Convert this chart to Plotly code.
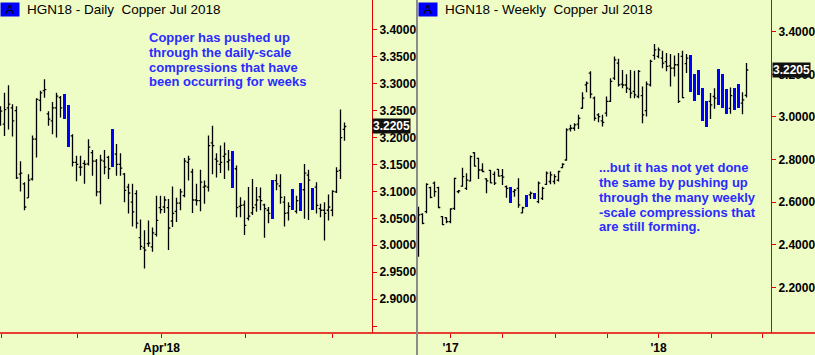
import plotly.graph_objects as go

# ---------------- DATA ----------------
daily_open = [3.231,3.225,3.255,3.255,3.250,3.132,3.114,3.088,3.123,3.197,
              3.269,3.287,3.244,3.231,3.255,3.274,3.275,3.250,3.203,3.154,
              3.145,3.152,3.151,3.172,3.156,3.099,3.156,3.163,3.150,3.169,
              3.150,3.132,3.108,3.080,3.096,3.014,2.995,3.003,2.997,3.020,
              3.070,3.071,3.070,3.045,3.063,3.078,3.092,3.154,3.136,3.084,
              3.083,3.108,3.108,3.190,3.160,3.150,3.165,3.155,3.165,3.142,
              3.072,3.075,3.050,3.060,3.075,3.090,3.075,3.065,3.055,3.120,
              3.110,3.080,3.060,3.070,3.063,3.070,3.103,3.130,3.100,3.108,
              3.068,3.065,3.065,3.065,3.099,3.139,3.215]
daily_high = [3.258,3.283,3.297,3.262,3.258,3.156,3.117,3.132,3.204,3.273,
              3.287,3.308,3.249,3.266,3.283,3.277,3.280,3.260,3.206,3.166,
              3.166,3.158,3.197,3.177,3.160,3.168,3.177,3.166,3.215,3.188,
              3.171,3.134,3.114,3.114,3.102,3.048,3.028,3.046,3.033,3.092,
              3.092,3.091,3.086,3.109,3.088,3.105,3.162,3.166,3.142,3.114,
              3.140,3.120,3.204,3.222,3.171,3.185,3.191,3.177,3.175,3.148,
              3.089,3.083,3.108,3.123,3.108,3.107,3.077,3.071,3.121,3.132,
              3.132,3.091,3.080,3.105,3.092,3.116,3.151,3.140,3.107,3.117,
              3.077,3.080,3.094,3.102,3.145,3.252,3.228]
daily_low = [3.222,3.203,3.215,3.202,3.123,3.100,3.065,3.088,3.120,3.163,
             3.249,3.274,3.222,3.206,3.200,3.237,3.234,3.183,3.146,3.119,
             3.129,3.114,3.148,3.129,3.091,3.076,3.132,3.123,3.146,3.129,
             3.129,3.080,3.059,3.035,3.031,2.991,2.957,2.997,2.988,3.016,
             3.059,3.060,2.991,3.034,3.043,3.065,3.089,3.120,3.060,3.074,
             3.063,3.077,3.100,3.132,3.126,3.134,3.123,3.139,3.107,3.052,
             3.052,3.019,3.046,3.056,3.062,3.065,3.014,3.041,3.049,3.102,
             3.077,3.035,3.046,3.066,3.059,3.063,3.049,3.047,3.065,3.059,
             3.052,3.009,3.046,3.054,3.097,3.123,3.194]
daily_close = [3.249,3.252,3.262,3.231,3.125,3.134,3.071,3.121,3.197,3.271,
               3.283,3.289,3.234,3.255,3.277,3.255,3.240,3.190,3.154,3.150,
               3.145,3.150,3.182,3.156,3.099,3.158,3.145,3.142,3.210,3.150,
               3.143,3.102,3.097,3.062,3.041,2.998,2.991,3.004,3.023,3.046,
               3.066,3.084,3.032,3.059,3.078,3.099,3.156,3.160,3.084,3.083,
               3.117,3.110,3.185,3.185,3.156,3.154,3.169,3.158,3.112,3.070,
               3.074,3.037,3.054,3.070,3.084,3.083,3.068,3.059,3.115,3.114,
               3.089,3.059,3.072,3.100,3.083,3.110,3.134,3.121,3.070,3.074,
               3.065,3.059,3.071,3.100,3.137,3.200,3.2205]
daily_blue = [16, 17, 28, 58, 68, 73, 75, 78]
daily_tick_pos = [0.25, 19.25, 40.25, 61.25, 83]
daily_tick_text = ["", "", "Apr'18", "", ""]
daily_y_ticks = [2.85, 2.90, 2.95, 3.00, 3.05, 3.10, 3.15, 3.20, 3.25, 3.30, 3.35, 3.40]

weekly_open = [2.383,2.543,2.556,2.668,2.689,2.668,2.532,2.527,2.509,2.571,
               2.650,2.675,2.665,2.700,2.832,2.806,2.751,2.709,2.749,2.731,
               2.754,2.725,2.673,2.665,2.650,2.665,2.550,2.580,2.634,2.640,
               2.603,2.618,2.684,2.697,2.697,2.704,2.762,2.798,2.944,2.947,
               2.966,3.041,3.151,3.206,3.088,3.010,2.982,3.018,3.073,3.182,
               3.253,3.154,3.150,3.130,3.120,3.096,3.100,3.030,3.151,3.289,
               3.284,3.276,3.260,3.240,3.229,3.245,3.284,3.250,3.280,3.190,
               3.110,3.130,3.070,3.073,3.096,3.220,3.195,3.125,3.040,3.130,
               3.150,3.065,3.101]
weekly_high = [2.579,2.548,2.689,2.673,2.697,2.673,2.535,2.528,2.571,2.715,
               2.657,2.762,2.736,2.819,2.834,2.809,2.783,2.712,2.751,2.744,
               2.756,2.756,2.678,2.673,2.662,2.712,2.579,2.634,2.650,2.642,
               2.697,2.673,2.744,2.744,2.731,2.747,2.783,2.947,2.963,2.971,
               3.010,3.116,3.167,3.214,3.096,3.018,3.010,3.096,3.182,3.284,
               3.273,3.221,3.201,3.221,3.217,3.221,3.143,3.167,3.268,3.342,
               3.326,3.311,3.300,3.295,3.289,3.300,3.311,3.295,3.289,3.201,
               3.221,3.138,3.076,3.112,3.135,3.226,3.201,3.132,3.138,3.135,
               3.155,3.116,3.253]
weekly_low = [2.344,2.496,2.548,2.618,2.626,2.571,2.493,2.501,2.501,2.563,
              2.642,2.672,2.657,2.697,2.767,2.709,2.740,2.642,2.689,2.681,
              2.720,2.681,2.621,2.595,2.626,2.574,2.548,2.579,2.615,2.615,
              2.595,2.610,2.681,2.684,2.684,2.697,2.759,2.794,2.932,2.935,
              2.944,3.038,3.116,3.088,2.982,2.975,2.955,3.002,3.070,3.174,
              3.143,3.135,3.112,3.088,3.088,3.088,2.971,3.002,3.143,3.268,
              3.276,3.229,3.214,3.143,3.190,3.065,3.088,3.206,3.116,3.073,
              3.104,2.982,2.955,2.991,3.038,3.057,3.044,3.013,3.015,3.033,
              3.041,3.013,3.091]
weekly_close = [2.540,2.501,2.684,2.623,2.650,2.575,2.495,2.509,2.568,2.712,
                2.653,2.720,2.704,2.814,2.769,2.751,2.744,2.700,2.691,2.689,
                2.722,2.718,2.665,2.600,2.657,2.587,2.574,2.630,2.642,2.620,
                2.689,2.665,2.736,2.728,2.720,2.744,2.778,2.939,2.947,2.963,
                2.994,3.088,3.159,3.107,2.994,3.002,2.975,3.073,3.167,3.268,
                3.151,3.150,3.135,3.112,3.104,3.214,3.010,3.154,3.261,3.315,
                3.315,3.253,3.237,3.229,3.245,3.073,3.091,3.276,3.130,3.080,
                3.215,2.990,2.960,3.057,3.088,3.060,3.050,3.020,3.100,3.040,
                3.050,3.080,3.2205]
weekly_blue = [23, 27, 29, 68, 69, 70, 71, 72, 75, 76, 77, 79, 80]
weekly_tick_pos = [8, 21, 34.25, 47.25, 60, 73.25, 86]
weekly_tick_text = ["'17", "", "", "", "'18", "", ""]
weekly_y_ticks = [2.2, 2.4, 2.6, 2.8, 3.0, 3.2, 3.4]

last_price = "3.2205"
daily_title = "HGN18 - Daily  Copper Jul 2018"
weekly_title = "HGN18 - Weekly  Copper Jul 2018"
daily_note = ["Copper has pushed up", "through the daily-scale",
              "compressions that have", "been occurring for weeks"]
weekly_note = ["...but it has not yet done", "the same by pushing up",
               "through the many weekly", "-scale compressions that",
               "are still forming."]

# ---------------- LAYOUT CONSTANTS ----------------
W, H = 815, 355
PLOT_H = 335
BG = "#EEFCC5"
RED = "#E00000"
FONT = "Arial, Liberation Sans, sans-serif"

def px_x(x):
    return x / W

def px_y(y):
    return (PLOT_H - y) / PLOT_H

fig = go.Figure()

def add_panel(o, h, l, c, blue, xa, ya):
    n = len(o)
    black = [i for i in range(n) if i not in blue]
    fig.add_trace(go.Ohlc(
        x=black, open=[o[i] for i in black], high=[h[i] for i in black],
        low=[l[i] for i in black], close=[c[i] for i in black],
        increasing=dict(line=dict(color="black", width=1.3)),
        decreasing=dict(line=dict(color="black", width=1.3)),
        tickwidth=0.45, xaxis=xa, yaxis=ya, hoverinfo="skip"))
    fig.add_trace(go.Bar(
        x=blue, base=[l[i] for i in blue],
        y=[h[i] - l[i] for i in blue], width=0.75,
        marker=dict(color="#0000FF", line=dict(width=0)),
        xaxis=xa, yaxis=ya, hoverinfo="skip"))

add_panel(daily_open, daily_high, daily_low, daily_close, daily_blue, "x", "y")
add_panel(weekly_open, weekly_high, weekly_low, weekly_close, weekly_blue, "x2", "y2")

tickfont = dict(family=FONT, size=12, color="black", weight="bold")

fig.update_layout(
    width=W, height=H, margin=dict(l=0, r=0, t=0, b=H - PLOT_H),
    paper_bgcolor=BG, plot_bgcolor=BG, showlegend=False, hovermode=False,
    bargap=0,
    xaxis=dict(domain=[0, px_x(372)], range=[-0.125, 92.875],
               tickvals=daily_tick_pos, ticktext=daily_tick_text,
               ticks="outside", ticklen=4, tickcolor=RED, showgrid=False,
               zeroline=False, showline=False, tickfont=tickfont,
               rangeslider=dict(visible=False), anchor="y"),
    yaxis=dict(domain=[0, 1], range=[2.837, 3.4554], side="right", anchor="x",
               tickvals=daily_y_ticks,
               ticktext=["" if v == 2.85 else f"{v:.4f}" for v in daily_y_ticks],
               ticks="outside", ticklen=4, tickcolor=RED, showline=True,
               linecolor=RED, linewidth=1, showgrid=False, zeroline=False,
               tickfont=tickfont),
    xaxis2=dict(domain=[px_x(418), px_x(771)], range=[-0.125, 88.125],
                tickvals=weekly_tick_pos, ticktext=weekly_tick_text,
                ticks="outside", ticklen=4, tickcolor=RED, showgrid=False,
                zeroline=False, showline=False, tickfont=tickfont,
                rangeslider=dict(visible=False), anchor="y2"),
    yaxis2=dict(domain=[0, 1], range=[1.986, 3.549], side="right", anchor="x2",
                tickvals=weekly_y_ticks,
                ticktext=[f"{v:.4f}" for v in weekly_y_ticks],
                ticks="outside", ticklen=4, tickcolor=RED, showline=True,
                linecolor=RED, linewidth=1, showgrid=False, zeroline=False,
                tickfont=tickfont),
)

shapes = [
    dict(type="line", xref="paper", yref="paper", x0=0, x1=1, y0=0, y1=0,
         line=dict(color=RED, width=1.5)),
    dict(type="line", xref="paper", yref="paper", x0=px_x(417), x1=px_x(417),
         y0=-0.1, y1=1, line=dict(color="#8C8C8C", width=2)),
]
fig.update_layout(shapes=shapes)

ann = []
for bx, tx, title in [(0, 25, daily_title), (418, 443, weekly_title)]:
    ann.append(dict(xref="paper", yref="paper", x=px_x(bx), y=px_y(2.5),
                    xanchor="left", yanchor="top", text="A", showarrow=False,
                    bgcolor="#0000FF", width=16, height=11, borderpad=1,
                    font=dict(family=FONT, size=13, color="black")))
    ann.append(dict(xref="paper", yref="paper", x=px_x(tx), y=px_y(9.5),
                    xanchor="left", yanchor="middle", text=title, showarrow=False,
                    font=dict(family=FONT, size=13.5, color="black")))

for i, line in enumerate(daily_note):
    ann.append(dict(xref="paper", yref="paper", x=px_x(147), y=px_y(37.7 + 14.9 * i),
                    xanchor="left", yanchor="middle", text=line, showarrow=False,
                    font=dict(family=FONT, size=13, color="#2B2BFF", weight="bold")))
for i, line in enumerate(weekly_note):
    ann.append(dict(xref="paper", yref="paper", x=px_x(597), y=px_y(169 + 14.8 * i),
                    xanchor="left", yanchor="middle", text=line, showarrow=False,
                    font=dict(family=FONT, size=13, color="#2B2BFF", weight="bold")))

for xr, yr, xpx in [("paper", "y", 372), ("paper", "y2", 772)]:
    ann.append(dict(xref=xr, yref=yr, x=px_x(xpx), y=float(last_price),
                    xanchor="left", yanchor="middle", text=last_price,
                    showarrow=False, bgcolor="#111111", borderpad=0,
                    font=dict(family=FONT, size=12, color="white", weight="bold")))

fig.update_layout(annotations=ann)

fig.write_html("out.html")
